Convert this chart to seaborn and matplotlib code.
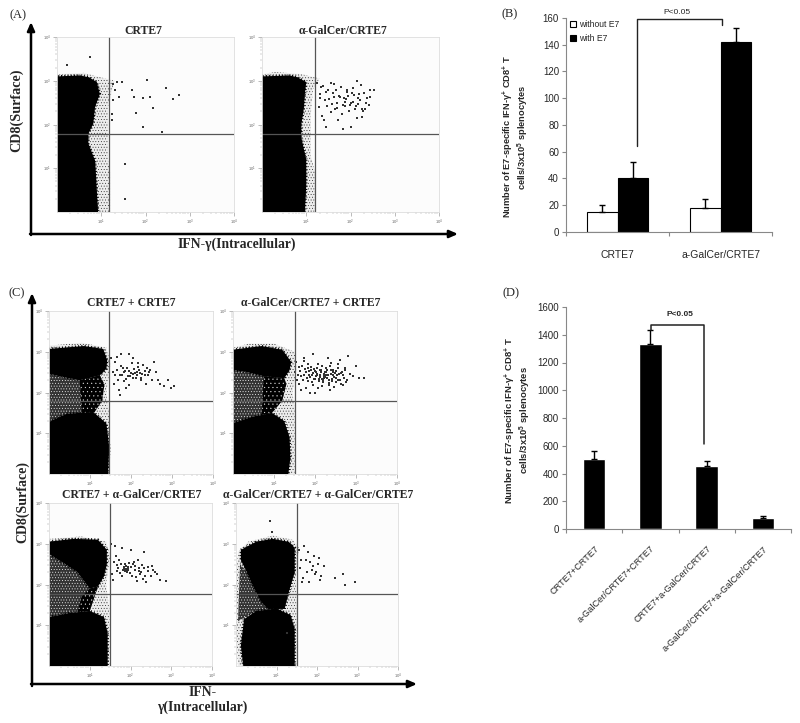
import numpy as np
import pandas as pd
import matplotlib
matplotlib.use('Agg')
import matplotlib.pyplot as plt
import seaborn as sns

# valores das barras (B)
b_groups = ['CRTE7', 'a-GalCer/CRTE7']
b_without = [15, 18]
b_with = [40, 142]
b_without_err = [5.5, 6.5]
b_with_err = [12.5, 10.5]

# valores das barras (D)
d_groups = ['CRTE7+CRTE7', 'a-GalCer/CRTE7+CRTE7', 'CRTE7+a-GalCer/CRTE7',
            'a-GalCer/CRTE7+a-GalCer/CRTE7']
d_values = [508, 1334, 453, 79]
d_err = [55, 103, 36, 17]

# citometria: contornos das populacoes, em decadas de log (0 a 4)
a1_core_x = [0, .93, .90, .88, .86, .71, .71, .82, .86, .97, .90, .72, .52, 0]
a1_core_y = [0, 0, .5, .88, 1.18, 1.56, 1.79, 2.02, 2.4, 2.7, 2.97, 3.08, 3.12, 3.1]
a1_fringe_x = [0, 1.2, 1.2, 1.15, 1.15, 1.15, 1.3, .9, .6, 0]
a1_fringe_y = [0, 0, .9, 1.2, 1.8, 2.4, 3.0, 3.1, 3.18, 3.15]
a1_waist_x = [0, .4, .5, .2, 0]
a1_waist_y = [1.35, 1.4, 1.65, 1.75, 1.7]
a1_spots_x = [1.35, 1.48, 1.69, 2.03, 1.73, 1.95, 2.10, 2.46, 2.63, 2.76, 2.16, 1.79, 1.94,
              2.37, 1.54, 1.54, 1.31, 1.27, 1.24, 1.27, 1.24, .22, 1.39, .75]
a1_spots_y = [2.97, 2.97, 2.78, 3.01, 2.63, 2.61, 2.63, 2.83, 2.59, 2.68, 2.38, 2.26, 1.94,
              1.84, 1.10, .30, 2.78, 2.55, 2.25, 2.93, 2.10, 3.37, 2.63, 3.54]

a2_core_x = [0, .97, 1.0, 1.0, .89, .89, .95, .97, 1.0, .8, .63, 0]
a2_core_y = [0, 0, .6, 1.2, 1.7, 2.0, 2.4, 2.7, 2.97, 3.08, 3.12, 3.1]
a2_fringe_x = [0, 1.19, 1.2, 1.1, 1.1, 1.15, 1.3, .9, .3, 0]
a2_fringe_y = [0, 0, .9, 1.3, 2.2, 2.8, 3.05, 3.15, 3.2, 3.15]
a2_waist_x = [0, .5, .7, .55, .2, 0]
a2_waist_y = [1.3, 1.4, 1.8, 2.4, 2.55, 2.45]
a2_dark_x = [.4, .5, .7, .55, .45]
a2_dark_y = [1.4, 1.4, 1.8, 2.4, 2.4]
a2_spots_x = [1.25, 1.31, 1.38, 1.42, 1.5, 1.56, 1.63, 1.28, 1.35, 1.47, 1.6, 1.7, 1.78, 1.85,
              1.92, 2.0, 2.08, 2.15, 2.22, 2.3, 2.38, 2.45, 2.53, 1.4, 1.52, 1.66, 1.74, 1.83,
              1.9, 1.97, 2.05, 2.12, 2.2, 2.27, 2.35, 2.43, 1.33, 1.45, 1.58, 1.68, 1.8, 1.88,
              1.95, 2.03, 2.1, 2.18, 2.25, 2.33, 1.62, 1.72, 1.87, 1.99, 2.06, 2.17, 2.29, 1.44,
              1.55, 1.76, 2.02, 2.14, 1.3, 1.91, 2.41, 2.24, 1.69, 1.82]
a2_spots_y = [2.95, 2.7, 2.88, 2.55, 2.8, 2.95, 2.62, 2.4, 2.2, 2.42, 2.72, 2.5, 2.86, 2.6, 2.75,
              2.5, 2.68, 3.0, 2.55, 2.72, 2.6, 2.78, 2.8, 2.1, 2.58, 2.35, 2.66, 2.45, 2.58,
              2.3, 2.52, 2.42, 2.7, 2.36, 2.5, 2.62, 2.85, 1.95, 2.48, 2.78, 2.25, 2.42, 2.66,
              2.72, 2.36, 2.46, 2.18, 2.36, 2.92, 2.1, 2.52, 2.44, 2.84, 2.6, 2.3, 2.75, 2.28,
              2.62, 1.95, 2.15, 2.6, 2.8, 2.45, 2.9, 2.38, 1.9]

c1_core_x = [0, .85, 1.32, 1.42, 1.40, 1.24, .75, .35, 0]
c1_core_y = [3.07, 3.14, 3.07, 2.79, 2.58, 2.42, 2.3, 2.38, 2.46]
c1_low_x = [0, .43, 1.08, 1.40, 1.47, 1.44, 0]
c1_low_y = [1.28, 1.48, 1.52, 1.24, .66, 0, 0]
c1_waist_x = [0, .43, 1.08, 1.25, 1.35, 1.24, .75, .35, 0]
c1_waist_y = [1.28, 1.48, 1.52, 1.8, 2.2, 2.42, 2.3, 2.38, 2.46]
c1_dark_x = [.8, 1.1, 1.3, 1.35, 1.24, .75]
c1_dark_y = [1.5, 1.5, 1.8, 2.2, 2.42, 2.3]
c1_fringe_x = [0, 1.47, 1.47, 1.4, 1.5, 1.4, .8, 0]
c1_fringe_y = [0, 0, 1.4, 2.0, 2.7, 3.1, 3.22, 3.15]
c1_spots_x = [1.55, 1.6, 1.68, 1.75, 1.82, 1.9, 1.98, 2.05, 2.12, 2.2, 2.28, 2.36, 2.45, 2.55,
              2.65, 2.8, 2.98, 3.05, 1.58, 1.65, 1.72, 1.8, 1.88, 1.95, 2.02, 2.1, 2.18, 2.25,
              2.33, 2.42, 2.5, 2.6, 1.7, 1.78, 1.85, 1.92, 2.0, 2.08, 2.15, 2.23, 2.3, 2.4,
              1.62, 1.76, 1.84, 1.94, 2.04, 2.14, 2.24, 1.52, 1.66, 1.87, 1.96, 2.06, 2.16,
              2.35, 2.47, 2.7, 2.9, 1.74]
c1_spots_y = [2.5, 2.75, 2.3, 2.95, 2.5, 2.6, 2.4, 2.85, 2.35, 2.55, 2.45, 2.2, 2.5, 2.75, 2.3,
              2.15, 2.1, 2.15, 2.2, 2.55, 2.42, 2.6, 2.32, 2.52, 2.72, 2.48, 2.62, 2.36, 2.52,
              2.42, 2.3, 2.5, 2.05, 2.44, 2.52, 2.4, 2.48, 2.58, 2.42, 2.48, 2.68, 2.6, 2.42,
              2.66, 2.28, 2.18, 2.46, 2.5, 2.3, 2.85, 2.88, 2.12, 2.95, 2.36, 2.72, 2.42, 2.55,
              2.2, 2.3, 1.95]

c2_core_x = [0, .7, 1.2, 1.42, 1.38, 1.25, .75, .35, 0]
c2_core_y = [3.05, 3.14, 3.05, 2.75, 2.55, 2.35, 2.4, 2.5, 2.55]
c2_low_x = [0, .45, .95, 1.25, 1.38, 1.4, 1.35, 0]
c2_low_y = [1.25, 1.4, 1.5, 1.3, .9, .4, 0, 0]
c2_waist_x = [0, .45, .95, 1.2, 1.3, 1.25, .75, .35, 0]
c2_waist_y = [1.25, 1.4, 1.5, 1.8, 2.2, 2.35, 2.4, 2.5, 2.55]
c2_dark_x = [.7, .95, 1.2, 1.3, 1.25, .75]
c2_dark_y = [1.45, 1.5, 1.8, 2.2, 2.35, 2.4]
c2_fringe_x = [0, 1.5, 1.5, 1.45, 1.55, 1.5, 1.0, .4, 0]
c2_fringe_y = [0, 0, 1.6, 2.0, 2.6, 3.0, 3.2, 3.2, 3.1]
c2_spots_x = [1.5, 1.55, 1.6, 1.66, 1.72, 1.78, 1.84, 1.9, 1.96, 2.02, 2.08, 2.14, 2.2, 2.26,
              2.32, 2.38, 2.44, 2.5, 2.56, 2.62, 2.68, 2.74, 2.8, 2.86, 2.92, 3.0, 3.08, 3.2,
              1.53, 1.58, 1.64, 1.7, 1.76, 1.82, 1.88, 1.94, 2.0, 2.06, 2.12, 2.18, 2.24, 2.3,
              2.36, 2.42, 2.48, 2.54, 2.6, 2.66, 2.72, 2.78, 1.62, 1.68, 1.74, 1.8, 1.86, 1.92,
              1.98, 2.04, 2.1, 2.16, 2.22, 2.28, 2.34, 2.4, 2.46, 2.52, 2.58, 2.64, 2.7, 1.72,
              1.79, 1.85, 1.91, 1.97, 2.03, 2.09, 2.15, 2.21, 2.27, 2.33, 2.39, 2.45, 2.51, 2.57,
              2.63, 2.69, 2.75, 2.05, 2.11, 2.17, 2.23, 2.29, 2.35, 1.93, 1.99, 2.41, 2.47, 1.67,
              1.83, 2.55, 2.25, 2.13, 2.19, 2.07, 1.95, 2.31, 2.37, 2.43, 2.01, 1.89]
c2_spots_y = [2.5, 2.3, 2.62, 2.4, 2.85, 2.5, 2.28, 2.55, 2.95, 2.4, 2.7, 2.5, 2.3, 2.6, 2.85,
              2.45, 2.55, 2.25, 2.6, 2.8, 2.42, 2.55, 2.9, 2.45, 2.4, 2.65, 2.35, 2.35,
              2.75, 2.42, 2.52, 2.3, 2.58, 2.7, 2.38, 2.48, 2.32, 2.6, 2.44, 2.15, 2.5, 2.36,
              2.65, 2.28, 2.48, 2.42, 2.3, 2.5, 2.6, 2.3, 2.2, 2.66, 2.44, 2.36, 2.52, 2.25,
              2.58, 2.42, 2.34, 2.66, 2.4, 2.5, 2.3, 2.55, 2.38, 2.52, 2.46, 2.2, 2.35, 2.78,
              2.12, 2.44, 2.62, 2.34, 2.5, 2.28, 2.55, 2.36, 2.42, 2.18, 2.72, 2.44, 2.36, 2.7,
              2.48, 2.18, 2.25, 2.46, 2.38, 2.32, 2.46, 2.54, 2.24, 2.42, 2.52, 2.34, 2.14, 2.05,
              2.6, 2.3, 2.38, 2.56, 2.26, 2.12, 2.18, 2.44, 2.06, 2.5, 1.98, 2.0]

c3_core_x = [0, .6, 1.2, 1.42, 1.42, 1.35, 1.2, 1.0, .7, .4, 0]
c3_core_y = [3.05, 3.12, 3.1, 2.85, 2.5, 2.2, 1.95, 1.9, 2.3, 2.5, 2.75]
c3_low_x = [0, .5, 1.0, 1.35, 1.44, 1.44, 0]
c3_low_y = [1.2, 1.3, 1.35, 1.2, .8, 0, 0]
c3_waist_x = [0, .5, 1.0, 1.2, 1.0, .7, .4, 0]
c3_waist_y = [1.2, 1.3, 1.35, 1.95, 1.9, 2.3, 2.5, 2.75]
c3_dark_x = [.7, 1.0, 1.2, 1.0, .8]
c3_dark_y = [1.33, 1.35, 1.95, 1.9, 1.7]
c3_fringe_x = [0, 1.48, 1.48, 1.4, 1.5, 1.4, .8, 0]
c3_fringe_y = [0, 0, 1.4, 2.0, 2.7, 3.05, 3.18, 3.12]
c3_spots_x = [1.55, 1.62, 1.7, 1.78, 1.86, 1.94, 2.02, 2.1, 2.18, 2.26, 2.34, 2.42, 2.5, 2.6, 2.72,
              2.88, 1.6, 1.68, 1.76, 1.84, 1.9, 1.96, 2.04, 2.12, 2.2, 2.28, 2.36, 1.58, 1.66,
              1.74, 1.82, 1.88, 1.92, 2.0, 2.06, 2.14, 2.22, 2.3, 2.44, 1.72, 1.8, 1.87, 1.93,
              1.98, 2.08, 2.16, 2.24, 2.32, 2.52, 1.52, 1.64, 1.95, 2.38, 2.55, 2.65, 1.85, 1.89]
c3_spots_y = [2.25, 2.95, 2.4, 2.9, 2.5, 2.35, 2.85, 2.45, 2.6, 2.3, 2.8, 2.42, 2.2, 2.3, 2.1,
              2.08, 2.55, 2.32, 2.5, 2.42, 2.38, 2.52, 2.2, 2.36, 2.32, 2.48, 2.22, 2.1, 2.48,
              2.28, 2.36, 2.46, 2.3, 2.42, 2.5, 2.18, 2.4, 2.14, 2.32, 2.6, 2.2, 2.34, 2.44,
              2.28, 2.56, 2.08, 2.26, 2.4, 2.45, 3.0, 2.7, 2.4, 2.05, 2.35, 2.25, 2.38, 2.32]

c4_core_x = [.12, .5, .9, 1.3, 1.45, 1.45, 1.3, 1.2, .8, .6, .4, .27, .12, .12]
c4_core_y = [2.85, 3.05, 3.12, 3.05, 2.9, 2.3, 1.8, 1.4, 1.4, 1.6, 2.0, 2.3, 2.6, 2.85]
c4_low_x = [.2, .5, 1.0, 1.35, 1.45, 1.45, .18, .12]
c4_low_y = [1.15, 1.35, 1.41, 1.25, .9, 0, 0, .5]
c4_waist_x = [.05, .5, 1.0, .6, .4, .27, .1]
c4_waist_y = [1.1, 1.35, 1.41, 1.6, 2.0, 2.3, 2.5]
c4_fringe_x = [.05, 1.5, 1.5, 1.48, 1.55, 1.4, .9, .3, .05, 0, 0]
c4_fringe_y = [0, 0, 1.4, 2.2, 2.9, 3.1, 3.2, 3.05, 2.8, 2.0, 1.0]
c4_spots_x = [1.55, 1.6, 1.68, 1.75, 1.82, 1.9, 1.98, 2.05, 2.1, 2.18, 1.58, 1.65, 1.72, 1.8, 1.88,
              1.95, 2.02, 2.08, 2.45, 2.65, 2.68, 2.95, 1.62, 1.78, 1.92, .85, .9, 1.25]
c4_spots_y = [2.85, 2.6, 2.95, 2.3, 2.55, 2.45, 2.3, 2.65, 2.2, 2.45, 2.4, 2.15, 2.6, 2.05, 2.35,
              2.25, 2.5, 2.1, 2.15, 2.25, 2.0, 2.05, 2.05, 2.8, 2.7, 3.55, 3.3, .8]

sns.set_style('white')
plt.rcParams['font.family'] = ['Liberation Sans', 'DejaVu Sans']
plt.rcParams['mathtext.default'] = 'regular'
plt.rcParams['hatch.linewidth'] = 0.3

W, H = 800, 723
fig = plt.figure(figsize=(8, 7.23), dpi=100, facecolor='white')

# camada em pixels para textos e setas
bg = fig.add_axes([0, 0, 1, 1])
bg.set_xlim(0, W)
bg.set_ylim(H, 0)
bg.axis('off')


def px_axes(left, top, right, bottom):
    return fig.add_axes([left / W, 1 - bottom / H, (right - left) / W, (bottom - top) / H])


def serif(x, y, s, size=9, weight='bold', **kw):
    bg.text(x, y, s, family='Liberation Serif', fontsize=size, fontweight=weight,
            ha='center', va='center', **kw)


def arrow(x0, y0, x1, y1):
    bg.annotate('', xy=(x1, y1), xytext=(x0, y0),
                arrowprops=dict(arrowstyle='-|>,head_width=0.22,head_length=0.5', color='black',
                                lw=1.8, shrinkA=0, shrinkB=0))


def flow(box, vline, hline, cores, fringe, waist, spots, dark=None):
    ax = px_axes(*box)
    ax.set_facecolor('#fcfcfc')
    ax.set_xlim(0, 4)
    ax.set_ylim(0, 4)
    ax.fill(fringe[0], fringe[1], facecolor='#ededed', edgecolor='#222222', hatch='......', lw=0)
    ax.fill(waist[0], waist[1], facecolor='#333333', edgecolor='white', hatch='......', lw=0)
    if dark is not None:
        ax.fill(dark[0], dark[1], facecolor='black', edgecolor='#dddddd', hatch='....', lw=0)
    for cx, cy in cores:
        # contorno pontilhado para deixar a borda da populacao irregular
        ax.fill(cx, cy, facecolor='black', edgecolor='black', lw=1.8, ls=(0, (0.4, 0.9)), clip_on=True)
    sns.scatterplot(x=spots[0], y=spots[1], s=1.2, color='#333333', marker='s', linewidth=0,
                    ax=ax, legend=False)
    ax.axvline(vline, color='#555555', lw=0.9)
    ax.axhline(hline, color='#555555', lw=0.9)
    ax.set_xticks([1, 2, 3, 4])
    ax.set_yticks([1, 2, 3, 4])
    minor = [np.log10(m) + d for d in range(4) for m in range(2, 10)]
    ax.set_xticks(minor, minor=True)
    ax.set_yticks(minor, minor=True)
    ax.set_xticklabels(['$10^{%d}$' % i for i in range(1, 5)])
    ax.set_yticklabels(['$10^{%d}$' % i for i in range(1, 5)])
    ax.tick_params(which='major', length=3, width=0.4, color='#888888', labelsize=3,
                   labelcolor='#666666', pad=1, bottom=True, left=True)
    ax.tick_params(which='minor', length=1.5, width=0.3, color='#999999', bottom=True, left=True)
    for s in ax.spines.values():
        s.set_color('#dddddd')
        s.set_linewidth(0.6)
    ax.set_xlabel('')
    ax.set_ylabel('')
    return ax


flow((57, 37, 234, 212), 1.18, 1.79, [(a1_core_x, a1_core_y)], (a1_fringe_x, a1_fringe_y),
     (a1_waist_x, a1_waist_y), (a1_spots_x, a1_spots_y))
flow((262, 37, 439, 212), 1.19, 1.79, [(a2_core_x, a2_core_y)], (a2_fringe_x, a2_fringe_y),
     (a2_waist_x, a2_waist_y), (a2_spots_x, a2_spots_y), (a2_dark_x, a2_dark_y))
flow((49, 311, 213, 474), 1.47, 1.79, [(c1_core_x, c1_core_y), (c1_low_x, c1_low_y)],
     (c1_fringe_x, c1_fringe_y), (c1_waist_x, c1_waist_y), (c1_spots_x, c1_spots_y),
     (c1_dark_x, c1_dark_y))
flow((233, 311, 397, 474), 1.5, 1.78, [(c2_core_x, c2_core_y), (c2_low_x, c2_low_y)],
     (c2_fringe_x, c2_fringe_y), (c2_waist_x, c2_waist_y), (c2_spots_x, c2_spots_y),
     (c2_dark_x, c2_dark_y))
flow((49, 503, 212, 666), 1.49, 1.77, [(c3_core_x, c3_core_y), (c3_low_x, c3_low_y)],
     (c3_fringe_x, c3_fringe_y), (c3_waist_x, c3_waist_y), (c3_spots_x, c3_spots_y),
     (c3_dark_x, c3_dark_y))
flow((236, 503, 398, 666), 1.5, 1.77, [(c4_core_x, c4_core_y), (c4_low_x, c4_low_y)],
     (c4_fringe_x, c4_fringe_y), (c4_waist_x, c4_waist_y), (c4_spots_x, c4_spots_y))

# setas e textos dos paineis A e C
arrow(31, 235, 31, 22)
arrow(30, 234, 458, 234)
arrow(32, 686, 32, 293)
arrow(31, 684, 417, 684)

serif(18, 15, '(A)', 9, 'normal')
serif(17, 293, '(C)', 9, 'normal')
serif(510, 14, '(B)', 9, 'normal')
serif(511, 293, '(D)', 9, 'normal')

serif(143, 31, 'CRTE7', 8.5)
serif(343, 31, 'α-GalCer/CRTE7', 8.5)
serif(213, 49, '40', 8.5)
serif(413, 49, '152', 8.5)
serif(17, 110, 'CD8(Surface)', 10.2, rotation=90)
serif(237, 244, 'IFN-γ(Intracellular)', 9.8)

serif(131, 303, 'CRTE7 + CRTE7', 8.5)
serif(311, 303, 'α-GalCer/CRTE7 + CRTE7', 8.5)
serif(132, 495, 'CRTE7 + α-GalCer/CRTE7', 8.5)
serif(318, 495, 'α-GalCer/CRTE7 + α-GalCer/CRTE7', 8.5)
serif(201, 322, '510', 8.5)
serif(378, 322, '1335', 8.5)
serif(196, 516, '453', 8.5)
serif(386, 516, '70', 8.5)
serif(23, 502, 'CD8(Surface)', 10, rotation=90)
serif(203, 692, 'IFN-', 9.8)
serif(202, 707, 'γ(Intracellular)', 9.8)

ylab = 'Number of E7-specific IFN-γ$^{+}$ CD8$^{+}$ T\ncells/3x10$^{5}$ splenocytes'


def bar_axes(ax, ymax, step, size):
    ax.set_ylim(0, ymax)
    ax.set_yticks(np.arange(0, ymax + 1, step))
    sns.despine(ax=ax)
    for s in ['left', 'bottom']:
        ax.spines[s].set_color('#888888')
        ax.spines[s].set_linewidth(0.8)
    ax.tick_params(axis='y', length=3, width=0.8, color='#888888', labelsize=size, pad=2, left=True)
    ax.set_xlabel('')
    ax.set_ylabel('')


# painel B
ax_b = px_axes(566, 18, 772, 232)
df_b = pd.DataFrame({'grupo': b_groups * 2,
                     'serie': ['without E7'] * 2 + ['with E7'] * 2,
                     'valor': b_without + b_with})
sns.barplot(data=df_b, x='grupo', y='valor', hue='serie', errorbar=None, width=0.6, gap=0,
            palette={'without E7': 'white', 'with E7': 'black'}, edgecolor='black', linewidth=0.8,
            saturation=1, ax=ax_b)
for cont, err in zip(ax_b.containers, [b_without_err, b_with_err]):
    xs = [p.get_x() + p.get_width() / 2 for p in cont]
    ys = [p.get_height() for p in cont]
    ax_b.errorbar(xs, ys, yerr=[[0] * len(err), err], fmt='none', ecolor='black', elinewidth=1,
                  capsize=2.5, capthick=1)
ax_b.set_xlim(-0.5, 1.5)
bar_axes(ax_b, 160, 20, 7)
ax_b.set_xticks([-0.5, 0.5, 1.5], minor=True)
ax_b.tick_params(axis='x', which='major', length=0, labelsize=7.5, pad=13)
ax_b.tick_params(axis='x', which='minor', length=3, width=0.8, color='#888888', bottom=True)
ax_b.legend(loc='upper left', bbox_to_anchor=(0.0, 1.01), frameon=False, fontsize=6.2,
            handlelength=0.7, handleheight=0.7, handletextpad=0.3, labelspacing=0.55,
            borderpad=0.2, borderaxespad=0.3)
ax_b.plot([0.188, 0.188, 1.015, 1.015], [64.5, 159.5, 159.5, 155], color='#222222', lw=1,
          clip_on=False)
ax_b.text(0.576, 164, 'P<0.05', ha='center', va='center', fontsize=6)
bg.text(516, 137, ylab, rotation=90, ha='center', va='center', fontsize=6.7, fontweight='bold',
        linespacing=1.0, multialignment='center')

# painel D
ax_d = px_axes(566, 307, 791, 529)
sns.barplot(x=d_groups, y=d_values, color='black', errorbar=None, width=0.4, saturation=1, ax=ax_d)
ax_d.errorbar(range(4), d_values, yerr=[[0] * 4, d_err], fmt='none', ecolor='black', elinewidth=1,
              capsize=2.2, capthick=1)
ax_d.set_xlim(-0.5, 3.5)
bar_axes(ax_d, 1600, 200, 7)
ax_d.set_xticks([-0.5, 0.5, 1.5, 2.5, 3.5], minor=True)
ax_d.tick_params(axis='x', which='major', length=0, labelsize=6.6, pad=11)
ax_d.tick_params(axis='x', which='minor', length=3, width=0.8, color='#888888', bottom=True)
plt.setp(ax_d.get_xticklabels(), rotation=45, ha='right', rotation_mode='anchor')
ax_d.plot([1.007, 1.007, 1.956, 1.956], [1435, 1470, 1470, 612], color='#222222', lw=1.1,
          clip_on=False)
ax_d.text(1.517, 1545, 'P<0.05', ha='center', va='center', fontsize=6, fontweight='bold')
bg.text(518, 420, ylab, rotation=90, ha='center', va='center', fontsize=6.8, fontweight='bold',
        linespacing=1.0, multialignment='center')

fig.savefig('out.png', dpi=100)
